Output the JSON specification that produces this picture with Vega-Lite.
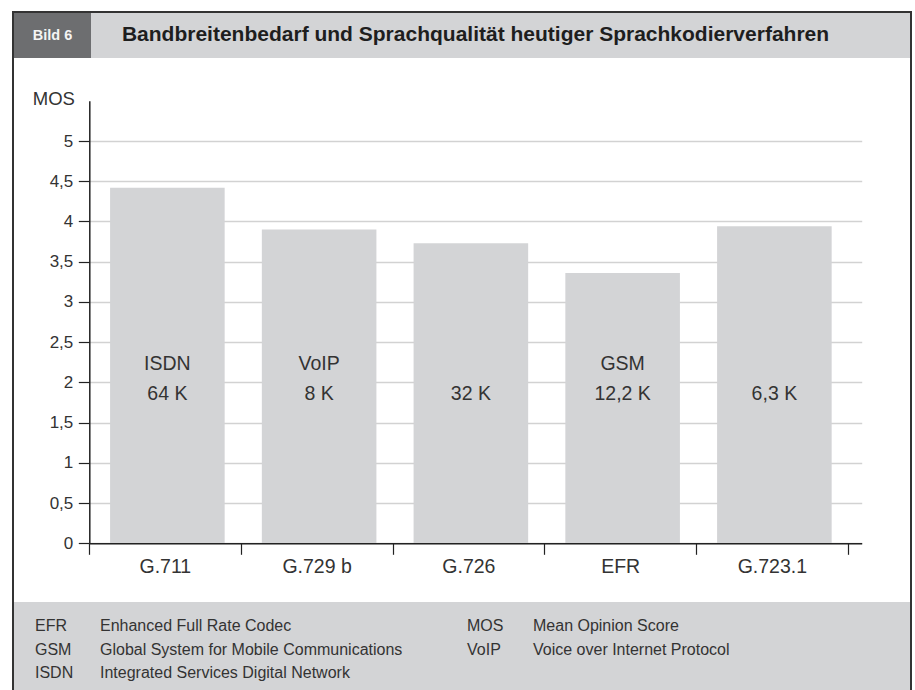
{
  "$schema": "https://vega.github.io/schema/vega-lite/v6.json",
  "background": "white",
  "padding": {"left": 12, "top": 11, "right": 0, "bottom": 0},
  "config": {
    "view": {"stroke": null},
    "font": "Liberation Sans",
    "concat": {"spacing": 0}
  },
  "datasets": {
    "codecs": [
      {"codec": "G.711", "mos": 4.42, "net": "ISDN", "rate": "64 K"},
      {"codec": "G.729 b", "mos": 3.9, "net": "VoIP", "rate": "8 K"},
      {"codec": "G.726", "mos": 3.73, "net": "", "rate": "32 K"},
      {"codec": "EFR", "mos": 3.36, "net": "GSM", "rate": "12,2 K"},
      {"codec": "G.723.1", "mos": 3.94, "net": "", "rate": "6,3 K"}
    ],
    "glossary1": [
      {"abbr": "EFR", "desc": "Enhanced Full Rate Codec"},
      {"abbr": "GSM", "desc": "Global System for Mobile Communications"},
      {"abbr": "ISDN", "desc": "Integrated Services Digital Network"}
    ],
    "glossary2": [
      {"abbr": "MOS", "desc": "Mean Opinion Score"},
      {"abbr": "VoIP", "desc": "Voice over Internet Protocol"}
    ],
    "header": [
      {"label": "Bild 6", "title": "Bandbreitenbedarf und Sprachqualität heutiger Sprachkodierverfahren"}
    ]
  },
  "spacing": 0,
  "hconcat": [
    {
      "width": 2, "height": 681,
      "view": {"fill": "#333333", "stroke": null},
      "data": {"values": []},
      "mark": "rect",
      "encoding": {}
    },
    {
      "spacing": 0,
      "vconcat": [
        {
          "width": 896, "height": 2,
          "view": {"fill": "#333333", "stroke": null},
          "data": {"values": []},
          "mark": "rect",
          "encoding": {}
        },
        {
          "spacing": 0,
          "hconcat": [
            {
              "width": 77, "height": 45,
              "view": {"fill": "#6d6e70", "stroke": null},
              "data": {"name": "header"},
              "mark": {"type": "text", "fontSize": 14.5, "fontWeight": "bold", "color": "#f4f4f4"},
              "encoding": {"text": {"field": "label"}}
            },
            {
              "width": 769, "height": 45,
              "view": {"fill": "#d3d4d6", "stroke": null},
              "data": {"name": "header"},
              "mark": {"type": "text", "fontSize": 21, "fontWeight": "bold", "color": "#1e1e1e", "dy": -1},
              "encoding": {"text": {"field": "title"}}
            },
            {
              "width": 50, "height": 45,
              "view": {"fill": "#d3d4d6", "stroke": null},
              "data": {"values": []},
              "mark": "rect",
              "encoding": {}
            }
          ]
        },
        {
          "width": 896, "height": 544,
          "view": {"fill": "white", "stroke": null},
          "data": {"name": "codecs"},
          "encoding": {
            "x": {
              "field": "codec", "type": "nominal", "sort": null,
              "scale": {"range": [75.5, 847.7], "paddingInner": 0, "paddingOuter": 0.0443, "align": 0},
              "axis": {
                "title": null, "labelAngle": 0, "labelFontSize": 19.5, "labelColor": "#333333",
                "labelPadding": 3, "tickSize": 11, "tickColor": "#222222", "tickWidth": 1.2,
                "domainColor": "#222222", "domainWidth": 1.5, "bandPosition": 1, "tickExtra": true,
                "offset": -58.7, "zindex": 1, "grid": false
              }
            }
          },
          "layer": [
            {
              "mark": {"type": "bar", "color": "#d3d4d6", "width": {"band": 0.755}, "xOffset": 2},
              "encoding": {
                "y": {
                  "field": "mos", "type": "quantitative",
                  "scale": {"domain": [0, 5.5], "range": [485.3, 42.8], "nice": false, "zero": true},
                  "axis": {
                    "values": [0, 0.5, 1, 1.5, 2, 2.5, 3, 3.5, 4, 4.5, 5],
                    "format": "~g",
                    "labelExpr": "replace(datum.label, '.', ',')",
                    "offset": -75.3,
                    "domainColor": "#222222", "domainWidth": 1.5,
                    "tickColor": "#222222", "tickWidth": 1.2, "tickSize": 11,
                    "labelFontSize": 17, "labelColor": "#333333", "labelPadding": 5.5,
                    "grid": true, "gridColor": "#d2d2d2", "gridWidth": 1.5,
                    "title": "MOS", "titleAngle": 0, "titleX": -36, "titleY": 40,
                    "titleAlign": "center", "titleBaseline": "middle",
                    "titleFontSize": 18.5, "titleFontWeight": "normal", "titleColor": "#333333"
                  }
                }
              }
            },
            {
              "mark": {"type": "text", "fontSize": 19.5, "color": "#333333", "baseline": "middle", "xOffset": 2},
              "encoding": {
                "y": {"datum": 2.23, "type": "quantitative"},
                "text": {"field": "net"}
              }
            },
            {
              "mark": {"type": "text", "fontSize": 19.5, "color": "#333333", "baseline": "middle", "xOffset": 2},
              "encoding": {
                "y": {"datum": 1.86, "type": "quantitative"},
                "text": {"field": "rate"}
              }
            }
          ]
        },
        {
          "spacing": 0,
          "hconcat": [
            {
              "width": 440, "height": 90,
              "view": {"fill": "#d3d4d6", "stroke": null},
              "data": {"name": "glossary1"},
              "transform": [{"fold": ["abbr", "desc"], "as": ["part", "label"]}],
              "mark": {"type": "text", "align": "left", "baseline": "middle", "fontSize": 16, "color": "#333333"},
              "encoding": {
                "x": {"field": "part", "type": "nominal", "scale": {"type": "point", "domain": ["abbr", "desc"], "range": [21, 86], "padding": 0}, "axis": null},
                "y": {"field": "abbr", "type": "nominal", "sort": null, "scale": {"type": "point", "range": [24, 71], "padding": 0}, "axis": null},
                "text": {"field": "label"}
              }
            },
            {
              "width": 456, "height": 90,
              "view": {"fill": "#d3d4d6", "stroke": null},
              "data": {"name": "glossary2"},
              "transform": [{"fold": ["abbr", "desc"], "as": ["part", "label"]}],
              "mark": {"type": "text", "align": "left", "baseline": "middle", "fontSize": 16, "color": "#333333"},
              "encoding": {
                "x": {"field": "part", "type": "nominal", "scale": {"type": "point", "domain": ["abbr", "desc"], "range": [13, 79], "padding": 0}, "axis": null},
                "y": {"field": "abbr", "type": "nominal", "sort": null, "scale": {"type": "point", "range": [24, 47.5], "padding": 0}, "axis": null},
                "text": {"field": "label"}
              }
            }
          ]
        }
      ]
    },
    {
      "width": 2, "height": 681,
      "view": {"fill": "#333333", "stroke": null},
      "data": {"values": []},
      "mark": "rect",
      "encoding": {}
    }
  ]
}
